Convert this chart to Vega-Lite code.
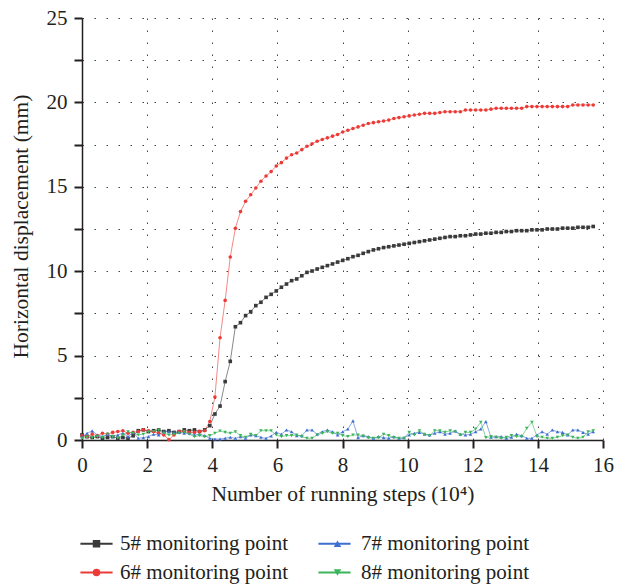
{
"$schema": "https://vega.github.io/schema/vega-lite/v6.json",
"width": 521, "height": 422,
"autosize": "none",
"padding": {"left": 82, "top": 18, "right": 21, "bottom": 146},
"background": "white",
"config": {
 "view": {"stroke": null},
 "font": "Liberation Serif, Times New Roman, serif",
 "axis": {"labelFont": "Liberation Serif, Times New Roman, serif", "titleFont": "Liberation Serif, Times New Roman, serif", "labelFontSize": 21, "titleFontSize": 21.5, "labelColor": "#231f20", "titleColor": "#231f20", "titleFontWeight": "normal", "domainColor": "#231f20", "domainWidth": 1.5, "tickColor": "#231f20", "tickWidth": 2, "tickSize": 8, "gridColor": "#444444", "gridDash": [1.5, 10.5], "gridWidth": 1, "gridOpacity": 1},
 "legend": {"title": null, "orient": "none", "legendX": 4, "legendY": 515, "columns": 2, "direction": "horizontal", "padding": 0, "labelFont": "Liberation Serif, Times New Roman, serif", "labelFontSize": 21, "labelColor": "#231f20", "labelLimit": 300, "symbolSize": 56, "symbolOpacity": 1, "labelOffset": 13, "columnPadding": 39, "rowPadding": 7}
},
"data": {"values": [
{"x":0,"s":"5#","y":0.3},{"x":0.157,"s":"5#","y":0.2},{"x":0.314,"s":"5#","y":0.15},{"x":0.471,"s":"5#","y":0.2},{"x":0.628,"s":"5#","y":0.1},{"x":0.785,"s":"5#","y":0.15},{"x":0.942,"s":"5#","y":0.2},{"x":1.099,"s":"5#","y":0.1},{"x":1.256,"s":"5#","y":0.15},{"x":1.413,"s":"5#","y":0.1},{"x":1.57,"s":"5#","y":0.25},{"x":1.727,"s":"5#","y":0.55},{"x":1.884,"s":"5#","y":0.6},{"x":2.041,"s":"5#","y":0.5},{"x":2.198,"s":"5#","y":0.55},{"x":2.355,"s":"5#","y":0.6},{"x":2.512,"s":"5#","y":0.5},{"x":2.669,"s":"5#","y":0.55},{"x":2.826,"s":"5#","y":0.45},{"x":2.983,"s":"5#","y":0.5},{"x":3.14,"s":"5#","y":0.6},{"x":3.297,"s":"5#","y":0.55},{"x":3.454,"s":"5#","y":0.6},{"x":3.611,"s":"5#","y":0.5},{"x":3.768,"s":"5#","y":0.6},{"x":3.925,"s":"5#","y":0.85},{"x":4.082,"s":"5#","y":1.54},{"x":4.239,"s":"5#","y":2.01},{"x":4.396,"s":"5#","y":3.46},{"x":4.553,"s":"5#","y":4.66},{"x":4.71,"s":"5#","y":6.71},{"x":4.867,"s":"5#","y":6.95},{"x":5.024,"s":"5#","y":7.37},{"x":5.181,"s":"5#","y":7.6},{"x":5.338,"s":"5#","y":7.96},{"x":5.495,"s":"5#","y":8.16},{"x":5.652,"s":"5#","y":8.45},{"x":5.809,"s":"5#","y":8.63},{"x":5.966,"s":"5#","y":8.83},{"x":6.123,"s":"5#","y":9.05},{"x":6.28,"s":"5#","y":9.24},{"x":6.437,"s":"5#","y":9.44},{"x":6.594,"s":"5#","y":9.54},{"x":6.751,"s":"5#","y":9.73},{"x":6.908,"s":"5#","y":9.93},{"x":7.065,"s":"5#","y":10.01},{"x":7.222,"s":"5#","y":10.13},{"x":7.379,"s":"5#","y":10.23},{"x":7.536,"s":"5#","y":10.33},{"x":7.693,"s":"5#","y":10.43},{"x":7.85,"s":"5#","y":10.54},{"x":8.007,"s":"5#","y":10.64},{"x":8.164,"s":"5#","y":10.74},{"x":8.321,"s":"5#","y":10.86},{"x":8.478,"s":"5#","y":10.94},{"x":8.635,"s":"5#","y":11.06},{"x":8.792,"s":"5#","y":11.16},{"x":8.949,"s":"5#","y":11.26},{"x":9.106,"s":"5#","y":11.33},{"x":9.263,"s":"5#","y":11.4},{"x":9.42,"s":"5#","y":11.45},{"x":9.577,"s":"5#","y":11.5},{"x":9.734,"s":"5#","y":11.55},{"x":9.891,"s":"5#","y":11.6},{"x":10.048,"s":"5#","y":11.65},{"x":10.205,"s":"5#","y":11.7},{"x":10.362,"s":"5#","y":11.75},{"x":10.519,"s":"5#","y":11.8},{"x":10.676,"s":"5#","y":11.85},{"x":10.833,"s":"5#","y":11.9},{"x":10.99,"s":"5#","y":11.95},{"x":11.147,"s":"5#","y":12.0},{"x":11.304,"s":"5#","y":12.05},{"x":11.461,"s":"5#","y":12.05},{"x":11.618,"s":"5#","y":12.1},{"x":11.775,"s":"5#","y":12.1},{"x":11.932,"s":"5#","y":12.15},{"x":12.089,"s":"5#","y":12.2},{"x":12.246,"s":"5#","y":12.2},{"x":12.403,"s":"5#","y":12.25},{"x":12.56,"s":"5#","y":12.25},{"x":12.717,"s":"5#","y":12.3},{"x":12.874,"s":"5#","y":12.3},{"x":13.031,"s":"5#","y":12.35},{"x":13.188,"s":"5#","y":12.35},{"x":13.345,"s":"5#","y":12.4},{"x":13.502,"s":"5#","y":12.4},{"x":13.659,"s":"5#","y":12.4},{"x":13.816,"s":"5#","y":12.45},{"x":13.973,"s":"5#","y":12.45},{"x":14.13,"s":"5#","y":12.45},{"x":14.287,"s":"5#","y":12.5},{"x":14.444,"s":"5#","y":12.5},{"x":14.601,"s":"5#","y":12.5},{"x":14.758,"s":"5#","y":12.55},{"x":14.915,"s":"5#","y":12.55},{"x":15.072,"s":"5#","y":12.55},{"x":15.229,"s":"5#","y":12.6},{"x":15.386,"s":"5#","y":12.6},{"x":15.543,"s":"5#","y":12.6},{"x":15.7,"s":"5#","y":12.65},
{"x":0,"s":"6#","y":0.25},{"x":0.157,"s":"6#","y":0.2},{"x":0.314,"s":"6#","y":0.35},{"x":0.471,"s":"6#","y":0.25},{"x":0.628,"s":"6#","y":0.4},{"x":0.785,"s":"6#","y":0.35},{"x":0.942,"s":"6#","y":0.45},{"x":1.099,"s":"6#","y":0.5},{"x":1.256,"s":"6#","y":0.55},{"x":1.413,"s":"6#","y":0.4},{"x":1.57,"s":"6#","y":0.45},{"x":1.727,"s":"6#","y":0.5},{"x":1.884,"s":"6#","y":0.6},{"x":2.041,"s":"6#","y":0.55},{"x":2.198,"s":"6#","y":0.5},{"x":2.355,"s":"6#","y":0.4},{"x":2.512,"s":"6#","y":0.3},{"x":2.669,"s":"6#","y":0.02},{"x":2.826,"s":"6#","y":0.3},{"x":2.983,"s":"6#","y":0.5},{"x":3.14,"s":"6#","y":0.5},{"x":3.297,"s":"6#","y":0.45},{"x":3.454,"s":"6#","y":0.45},{"x":3.611,"s":"6#","y":0.5},{"x":3.768,"s":"6#","y":0.55},{"x":3.925,"s":"6#","y":1.1},{"x":4.082,"s":"6#","y":2.55},{"x":4.239,"s":"6#","y":6.06},{"x":4.396,"s":"6#","y":8.27},{"x":4.553,"s":"6#","y":10.84},{"x":4.71,"s":"6#","y":12.54},{"x":4.867,"s":"6#","y":13.53},{"x":5.024,"s":"6#","y":14.14},{"x":5.181,"s":"6#","y":14.53},{"x":5.338,"s":"6#","y":14.93},{"x":5.495,"s":"6#","y":15.33},{"x":5.652,"s":"6#","y":15.64},{"x":5.809,"s":"6#","y":15.9},{"x":5.966,"s":"6#","y":16.23},{"x":6.123,"s":"6#","y":16.43},{"x":6.28,"s":"6#","y":16.7},{"x":6.437,"s":"6#","y":16.9},{"x":6.594,"s":"6#","y":17.0},{"x":6.751,"s":"6#","y":17.2},{"x":6.908,"s":"6#","y":17.4},{"x":7.065,"s":"6#","y":17.55},{"x":7.222,"s":"6#","y":17.7},{"x":7.379,"s":"6#","y":17.8},{"x":7.536,"s":"6#","y":17.9},{"x":7.693,"s":"6#","y":18.0},{"x":7.85,"s":"6#","y":18.1},{"x":8.007,"s":"6#","y":18.25},{"x":8.164,"s":"6#","y":18.35},{"x":8.321,"s":"6#","y":18.45},{"x":8.478,"s":"6#","y":18.55},{"x":8.635,"s":"6#","y":18.65},{"x":8.792,"s":"6#","y":18.75},{"x":8.949,"s":"6#","y":18.8},{"x":9.106,"s":"6#","y":18.85},{"x":9.263,"s":"6#","y":18.9},{"x":9.42,"s":"6#","y":18.95},{"x":9.577,"s":"6#","y":19.05},{"x":9.734,"s":"6#","y":19.1},{"x":9.891,"s":"6#","y":19.15},{"x":10.048,"s":"6#","y":19.2},{"x":10.205,"s":"6#","y":19.25},{"x":10.362,"s":"6#","y":19.3},{"x":10.519,"s":"6#","y":19.35},{"x":10.676,"s":"6#","y":19.35},{"x":10.833,"s":"6#","y":19.35},{"x":10.99,"s":"6#","y":19.4},{"x":11.147,"s":"6#","y":19.45},{"x":11.304,"s":"6#","y":19.45},{"x":11.461,"s":"6#","y":19.45},{"x":11.618,"s":"6#","y":19.45},{"x":11.775,"s":"6#","y":19.55},{"x":11.932,"s":"6#","y":19.55},{"x":12.089,"s":"6#","y":19.55},{"x":12.246,"s":"6#","y":19.55},{"x":12.403,"s":"6#","y":19.55},{"x":12.56,"s":"6#","y":19.6},{"x":12.717,"s":"6#","y":19.65},{"x":12.874,"s":"6#","y":19.65},{"x":13.031,"s":"6#","y":19.65},{"x":13.188,"s":"6#","y":19.65},{"x":13.345,"s":"6#","y":19.65},{"x":13.502,"s":"6#","y":19.65},{"x":13.659,"s":"6#","y":19.75},{"x":13.816,"s":"6#","y":19.75},{"x":13.973,"s":"6#","y":19.75},{"x":14.13,"s":"6#","y":19.75},{"x":14.287,"s":"6#","y":19.75},{"x":14.444,"s":"6#","y":19.75},{"x":14.601,"s":"6#","y":19.75},{"x":14.758,"s":"6#","y":19.75},{"x":14.915,"s":"6#","y":19.75},{"x":15.072,"s":"6#","y":19.85},{"x":15.229,"s":"6#","y":19.85},{"x":15.386,"s":"6#","y":19.85},{"x":15.543,"s":"6#","y":19.85},{"x":15.7,"s":"6#","y":19.85},
{"x":0,"s":"7#","y":0.2},{"x":0.157,"s":"7#","y":0.4},{"x":0.314,"s":"7#","y":0.54},{"x":0.471,"s":"7#","y":0.3},{"x":0.628,"s":"7#","y":0.2},{"x":0.785,"s":"7#","y":0.34},{"x":0.942,"s":"7#","y":0.2},{"x":1.099,"s":"7#","y":0.3},{"x":1.256,"s":"7#","y":0.4},{"x":1.413,"s":"7#","y":0.2},{"x":1.57,"s":"7#","y":0.45},{"x":1.727,"s":"7#","y":0.1},{"x":1.884,"s":"7#","y":0.14},{"x":2.041,"s":"7#","y":0.2},{"x":2.198,"s":"7#","y":0.34},{"x":2.355,"s":"7#","y":0.3},{"x":2.512,"s":"7#","y":0.49},{"x":2.669,"s":"7#","y":0.49},{"x":2.826,"s":"7#","y":0.45},{"x":2.983,"s":"7#","y":0.45},{"x":3.14,"s":"7#","y":0.4},{"x":3.297,"s":"7#","y":0.4},{"x":3.454,"s":"7#","y":0.3},{"x":3.611,"s":"7#","y":0.34},{"x":3.768,"s":"7#","y":0.26},{"x":3.925,"s":"7#","y":0.1},{"x":4.082,"s":"7#","y":0.06},{"x":4.239,"s":"7#","y":0.06},{"x":4.396,"s":"7#","y":0.1},{"x":4.553,"s":"7#","y":0.16},{"x":4.71,"s":"7#","y":0.1},{"x":4.867,"s":"7#","y":0.2},{"x":5.024,"s":"7#","y":0.1},{"x":5.181,"s":"7#","y":0.3},{"x":5.338,"s":"7#","y":0.26},{"x":5.495,"s":"7#","y":0.16},{"x":5.652,"s":"7#","y":0.1},{"x":5.809,"s":"7#","y":0.24},{"x":5.966,"s":"7#","y":0.45},{"x":6.123,"s":"7#","y":0.34},{"x":6.28,"s":"7#","y":0.59},{"x":6.437,"s":"7#","y":0.49},{"x":6.594,"s":"7#","y":0.26},{"x":6.751,"s":"7#","y":0.26},{"x":6.908,"s":"7#","y":0.59},{"x":7.065,"s":"7#","y":0.59},{"x":7.222,"s":"7#","y":0.34},{"x":7.379,"s":"7#","y":0.49},{"x":7.536,"s":"7#","y":0.59},{"x":7.693,"s":"7#","y":0.49},{"x":7.85,"s":"7#","y":0.3},{"x":8.007,"s":"7#","y":0.49},{"x":8.164,"s":"7#","y":0.65},{"x":8.321,"s":"7#","y":1.13},{"x":8.478,"s":"7#","y":0.14},{"x":8.635,"s":"7#","y":0.26},{"x":8.792,"s":"7#","y":0.2},{"x":8.949,"s":"7#","y":0.1},{"x":9.106,"s":"7#","y":0.2},{"x":9.263,"s":"7#","y":0.14},{"x":9.42,"s":"7#","y":0.1},{"x":9.577,"s":"7#","y":0.2},{"x":9.734,"s":"7#","y":0.1},{"x":9.891,"s":"7#","y":0.14},{"x":10.048,"s":"7#","y":0.3},{"x":10.205,"s":"7#","y":0.4},{"x":10.362,"s":"7#","y":0.45},{"x":10.519,"s":"7#","y":0.34},{"x":10.676,"s":"7#","y":0.3},{"x":10.833,"s":"7#","y":0.4},{"x":10.99,"s":"7#","y":0.49},{"x":11.147,"s":"7#","y":0.34},{"x":11.304,"s":"7#","y":0.4},{"x":11.461,"s":"7#","y":0.53},{"x":11.618,"s":"7#","y":0.34},{"x":11.775,"s":"7#","y":0.3},{"x":11.932,"s":"7#","y":0.34},{"x":12.089,"s":"7#","y":0.49},{"x":12.246,"s":"7#","y":0.65},{"x":12.403,"s":"7#","y":1.09},{"x":12.56,"s":"7#","y":0.16},{"x":12.717,"s":"7#","y":0.2},{"x":12.874,"s":"7#","y":0.2},{"x":13.031,"s":"7#","y":0.1},{"x":13.188,"s":"7#","y":0.16},{"x":13.345,"s":"7#","y":0.34},{"x":13.502,"s":"7#","y":0.26},{"x":13.659,"s":"7#","y":0.1},{"x":13.816,"s":"7#","y":0.1},{"x":13.973,"s":"7#","y":0.3},{"x":14.13,"s":"7#","y":0.49},{"x":14.287,"s":"7#","y":0.34},{"x":14.444,"s":"7#","y":0.59},{"x":14.601,"s":"7#","y":0.49},{"x":14.758,"s":"7#","y":0.45},{"x":14.915,"s":"7#","y":0.3},{"x":15.072,"s":"7#","y":0.59},{"x":15.229,"s":"7#","y":0.59},{"x":15.386,"s":"7#","y":0.45},{"x":15.543,"s":"7#","y":0.34},{"x":15.7,"s":"7#","y":0.49},
{"x":0,"s":"8#","y":0.1},{"x":0.157,"s":"8#","y":0.16},{"x":0.314,"s":"8#","y":0.14},{"x":0.471,"s":"8#","y":0.2},{"x":0.628,"s":"8#","y":0.16},{"x":0.785,"s":"8#","y":0.34},{"x":0.942,"s":"8#","y":0.2},{"x":1.099,"s":"8#","y":0.1},{"x":1.256,"s":"8#","y":0.3},{"x":1.413,"s":"8#","y":0.49},{"x":1.57,"s":"8#","y":0.4},{"x":1.727,"s":"8#","y":0.3},{"x":1.884,"s":"8#","y":0.34},{"x":2.041,"s":"8#","y":0.49},{"x":2.198,"s":"8#","y":0.49},{"x":2.355,"s":"8#","y":0.59},{"x":2.512,"s":"8#","y":0.4},{"x":2.669,"s":"8#","y":0.3},{"x":2.826,"s":"8#","y":0.34},{"x":2.983,"s":"8#","y":0.4},{"x":3.14,"s":"8#","y":0.49},{"x":3.297,"s":"8#","y":0.34},{"x":3.454,"s":"8#","y":0.2},{"x":3.611,"s":"8#","y":0.26},{"x":3.768,"s":"8#","y":0.2},{"x":3.925,"s":"8#","y":0.26},{"x":4.082,"s":"8#","y":0.4},{"x":4.239,"s":"8#","y":0.53},{"x":4.396,"s":"8#","y":0.45},{"x":4.553,"s":"8#","y":0.4},{"x":4.71,"s":"8#","y":0.49},{"x":4.867,"s":"8#","y":0.26},{"x":5.024,"s":"8#","y":0.16},{"x":5.181,"s":"8#","y":0.34},{"x":5.338,"s":"8#","y":0.26},{"x":5.495,"s":"8#","y":0.55},{"x":5.652,"s":"8#","y":0.55},{"x":5.809,"s":"8#","y":0.55},{"x":5.966,"s":"8#","y":0.3},{"x":6.123,"s":"8#","y":0.2},{"x":6.28,"s":"8#","y":0.26},{"x":6.437,"s":"8#","y":0.26},{"x":6.594,"s":"8#","y":0.3},{"x":6.751,"s":"8#","y":0.2},{"x":6.908,"s":"8#","y":0.1},{"x":7.065,"s":"8#","y":0.1},{"x":7.222,"s":"8#","y":0.3},{"x":7.379,"s":"8#","y":0.4},{"x":7.536,"s":"8#","y":0.49},{"x":7.693,"s":"8#","y":0.4},{"x":7.85,"s":"8#","y":0.4},{"x":8.007,"s":"8#","y":0.26},{"x":8.164,"s":"8#","y":0.2},{"x":8.321,"s":"8#","y":0.3},{"x":8.478,"s":"8#","y":0.3},{"x":8.635,"s":"8#","y":0.24},{"x":8.792,"s":"8#","y":0.14},{"x":8.949,"s":"8#","y":0.1},{"x":9.106,"s":"8#","y":0.14},{"x":9.263,"s":"8#","y":0.34},{"x":9.42,"s":"8#","y":0.26},{"x":9.577,"s":"8#","y":0.14},{"x":9.734,"s":"8#","y":0.1},{"x":9.891,"s":"8#","y":0.1},{"x":10.048,"s":"8#","y":0.45},{"x":10.205,"s":"8#","y":0.3},{"x":10.362,"s":"8#","y":0.55},{"x":10.519,"s":"8#","y":0.34},{"x":10.676,"s":"8#","y":0.26},{"x":10.833,"s":"8#","y":0.55},{"x":10.99,"s":"8#","y":0.55},{"x":11.147,"s":"8#","y":0.45},{"x":11.304,"s":"8#","y":0.55},{"x":11.461,"s":"8#","y":0.49},{"x":11.618,"s":"8#","y":0.3},{"x":11.775,"s":"8#","y":0.45},{"x":11.932,"s":"8#","y":0.45},{"x":12.089,"s":"8#","y":0.65},{"x":12.246,"s":"8#","y":1.05},{"x":12.403,"s":"8#","y":0.14},{"x":12.56,"s":"8#","y":0.2},{"x":12.717,"s":"8#","y":0.16},{"x":12.874,"s":"8#","y":0.1},{"x":13.031,"s":"8#","y":0.16},{"x":13.188,"s":"8#","y":0.26},{"x":13.345,"s":"8#","y":0.2},{"x":13.502,"s":"8#","y":0.2},{"x":13.659,"s":"8#","y":0.69},{"x":13.816,"s":"8#","y":1.05},{"x":13.973,"s":"8#","y":0.2},{"x":14.13,"s":"8#","y":0.16},{"x":14.287,"s":"8#","y":0.1},{"x":14.444,"s":"8#","y":0.1},{"x":14.601,"s":"8#","y":0.16},{"x":14.758,"s":"8#","y":0.26},{"x":14.915,"s":"8#","y":0.3},{"x":15.072,"s":"8#","y":0.16},{"x":15.229,"s":"8#","y":0.1},{"x":15.386,"s":"8#","y":0.16},{"x":15.543,"s":"8#","y":0.49},{"x":15.7,"s":"8#","y":0.55}
]},
"layer": [
 {"mark": {"type": "line", "strokeWidth": 1, "opacity": 0.6},
  "encoding": {
   "x": {"field": "x", "type": "quantitative", "scale": {"domain": [0, 16], "nice": false, "zero": false},
     "axis": {"title": "Number of running steps (10⁴)", "values": [0,1,2,3,4,5,6,7,8,9,10,11,12,13,14,15,16], "labelExpr": "datum.value % 2 ? '' : datum.label", "labelPadding": 6, "labelFlush": false, "labelOverlap": false, "titleY": 60, "titleBaseline": "alphabetic", "grid": true,
       "encode": {"ticks": {"update": {"y2": {"signal": "datum.value % 2 === 0 ? 8 : 5"}}}}}},
   "y": {"field": "y", "type": "quantitative", "scale": {"domain": [0, 25], "nice": false},
     "axis": {"title": "Horizontal displacement (mm)", "values": [0,2.5,5,7.5,10,12.5,15,17.5,20,22.5,25], "labelExpr": "datum.value % 5 ? '' : datum.label", "labelPadding": 7, "labelFlush": false, "labelOverlap": false, "titleX": -55, "titleY": 208, "titleBaseline": "alphabetic", "titleAngle": -90, "titleAlign": "center", "grid": true,
       "encode": {"ticks": {"update": {"x2": {"signal": "datum.value % 5 === 0 ? -8 : -5"}}}}}},
   "stroke": {"field": "s", "type": "nominal", "sort": ["5#", "7#", "6#", "8#"],
     "scale": {"range": ["#3a3a3a", "#3d6fd0", "#ec3b36", "#3bb45c"]},
     "legend": {"symbolType": "M-4.3,0L4.3,0", "symbolStrokeWidth": 2, "labelExpr": "' '", "columnPadding": 194}}
  }},
 {"mark": {"type": "point", "filled": true, "size": 13, "opacity": 1},
  "encoding": {
   "x": {"field": "x", "type": "quantitative"},
   "y": {"field": "y", "type": "quantitative"},
   "color": {"field": "s", "type": "nominal",
     "scale": {"domain": ["5#", "7#", "6#", "8#"], "range": ["#3a3a3a", "#3d6fd0", "#ec3b36", "#3bb45c"]},
     "legend": {"labelExpr": "datum.label + ' monitoring point'", "symbolStrokeWidth": 0}},
   "shape": {"field": "s", "type": "nominal", "scale": {"domain": ["5#", "7#", "6#", "8#"], "range": ["square", "triangle-up", "circle", "triangle-down"]}, "legend": null}
  }}
]
}
